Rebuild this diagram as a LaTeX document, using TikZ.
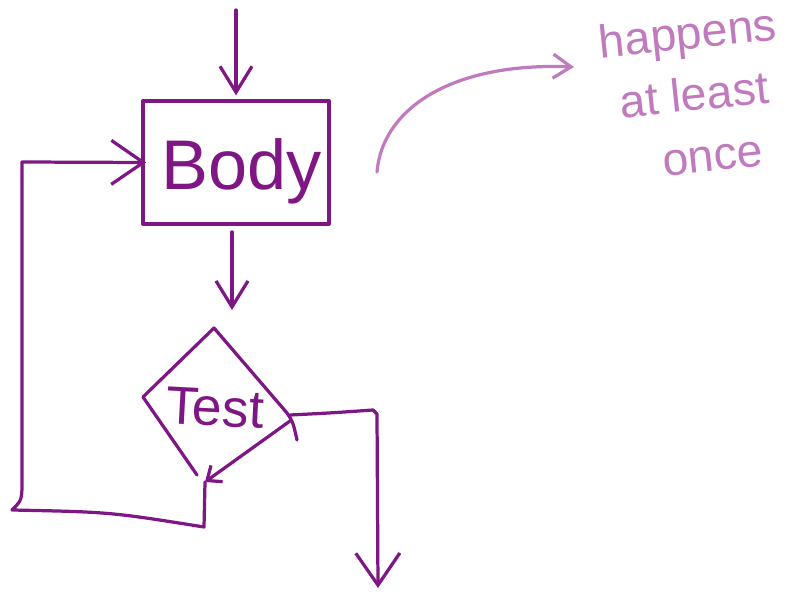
\documentclass[tikz,border=0pt]{standalone}
\usepackage{fontspec}
\setmainfont{Liberation Sans}
\usetikzlibrary{arrows.meta}
\definecolor{dk}{HTML}{7E1684}
\definecolor{lt}{HTML}{C07BBE}
\begin{document}
\begin{tikzpicture}[x=0.025cm,y=-0.025cm,line width=2.3pt,line cap=round,line join=round,
  ink/.style={draw=dk},
  arr/.style={draw=dk,-{Straight Barb[length=6.5mm,width=8mm,line width=2.3pt]}},
  bigarr/.style={draw=dk,-{Straight Barb[length=8mm,width=11mm,line width=2.3pt]}},
  smallarr/.style={draw=dk,-{Straight Barb[length=3mm,width=5mm,line width=2.3pt]}},
  notearr/.style={draw=lt,-{Straight Barb[length=4.5mm,width=6mm,line width=2.3pt]}},
  boxnode/.style={draw=dk,minimum width=4.65cm,minimum height=3.075cm,inner sep=0pt},
  dktext/.style={text=dk,inner sep=0pt}]
\useasboundingbox (0,0) rectangle (804,592);

% Body box
\node[boxnode] (body) at (236,162.5) {};
\node[dktext,anchor=base,font=\fontsize{50}{50}\selectfont] (bodytext) at (242,189) {Body};

% entry arrow
\coordinate (entry) at (236,10);
\draw[arr] (entry) -- ([yshift=0.1cm]body.north);

% body to test
\coordinate (b1) at (232,232);
\coordinate (b2) at (232,310);
\draw[arr] (b1) -- (b2);

% Test diamond
\coordinate (dt) at (214,328);
\coordinate (dr) at (287,413);
\coordinate (db) at (197,475);
\coordinate (dl) at (143,397);
\coordinate (dr2) at (290,421);
\coordinate (tip) at (205,482);
\draw[ink] (db) -- (dl) -- (dt) -- (dr) .. controls (293,422) .. (297,440);
\draw[smallarr] (dr2) -- (tip);
\node[dktext,rotate=-3,font=\fontsize{38}{38}\selectfont] (test) at (215,408) {Test};

% loop back
\draw[bigarr] (tip) -- (204,527) .. controls (110,512) .. (12,510)
  .. controls (22,500) .. (22,480) -- (22,162) -- ([xshift=0.12cm]body.west);

% exit
\coordinate (exit) at (378,588);
\draw[bigarr] (290,415) .. controls (330,413) .. (373,410) -- (377,414) -- (exit);

% note
\node[text=lt,inner sep=0pt,align=center,rotate=6,font=\fontsize{33}{44}\selectfont] (note) at (694,94) {happens\\at least\\\hspace*{0.6cm}once};
\coordinate (nstart) at (377,172);
\coordinate (ntip) at (574,67);
\draw[notearr] (nstart) .. controls (382,110) and (450,62) .. (ntip);
\end{tikzpicture}
\end{document}
